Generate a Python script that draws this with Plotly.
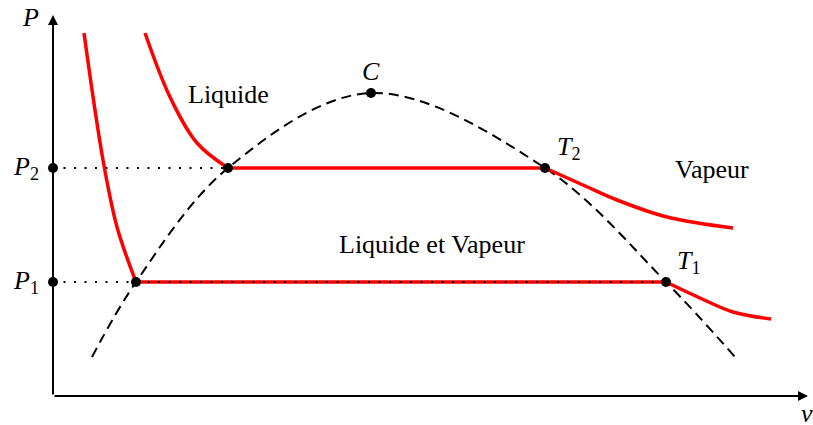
import plotly.graph_objects as go

# Isotherm T1 (lower pressure): liquid branch, plateau, vapour branch
t1_liq_v = [0.31, 0.50, 0.64, 0.83]
t1_liq_p = [3.63, 2.36, 1.69, 1.14]
t1_vap_v = [6.13, 6.47, 6.80, 7.18]
t1_vap_p = [1.14, 0.98, 0.84, 0.77]

# Isotherm T2 (higher pressure)
t2_liq_v = [0.92, 1.17, 1.44, 1.75]
t2_liq_p = [3.63, 2.99, 2.53, 2.28]
t2_vap_v = [4.92, 5.30, 5.64, 6.14, 6.80]
t2_vap_p = [2.28, 2.11, 1.96, 1.79, 1.68]

# Saturation pressures
P1 = 1.14
P2 = 2.28

# Saturation dome (bell curve) through the critical point C
dome_v = [0.39, 0.83, 1.75, 3.18, 4.92, 6.13, 6.82]
dome_p = [0.39, 1.14, 2.28, 3.03, 2.28, 1.14, 0.39]
crit_v, crit_p = 3.18, 3.03

RED = "#ff0000"
FONT = "Liberation Serif"
DOTTED = "2px,8.5px"

fig = go.Figure()

# dotted guide from the P axis to the liquid side of the T2 plateau
fig.add_trace(go.Scatter(x=[0, t2_liq_v[-1]], y=[P2, P2], mode="lines",
                         line=dict(color="black", width=2, dash=DOTTED)))

# saturation dome
fig.add_trace(go.Scatter(x=dome_v, y=dome_p, mode="lines", line_shape="spline",
                         line=dict(color="black", width=2, dash="10px,6px")))

# isotherms
for xs, ys, shape in [
    (t1_liq_v, t1_liq_p, "spline"),
    ([t1_liq_v[-1], t1_vap_v[0]], [P1, P1], "linear"),
    (t1_vap_v, t1_vap_p, "spline"),
    (t2_liq_v, t2_liq_p, "spline"),
    ([t2_liq_v[-1], t2_vap_v[0]], [P2, P2], "linear"),
    (t2_vap_v, t2_vap_p, "spline"),
]:
    fig.add_trace(go.Scatter(x=xs, y=ys, mode="lines", line_shape=shape,
                             line=dict(color=RED, width=3.5)))

# dotted guide at P1, running over the whole T1 plateau
fig.add_trace(go.Scatter(x=[0, t1_vap_v[0]], y=[P1, P1], mode="lines",
                         line=dict(color="black", width=2, dash=DOTTED)))

# marked points
pts_v = [0, 0, t1_liq_v[-1], t2_liq_v[-1], crit_v, t2_vap_v[0], t1_vap_v[0]]
pts_p = [P1, P2, P1, P2, crit_p, P2, P1]
fig.add_trace(go.Scatter(x=pts_v, y=pts_p, mode="markers",
                         marker=dict(color="black", size=10)))

# axes with arrows
annotations = []
for tip in [dict(x=7.55, y=0), dict(x=0, y=3.81)]:
    annotations.append(dict(xref="x", yref="y", axref="x", ayref="y", ax=0, ay=0,
                            showarrow=True, arrowhead=2, arrowsize=1,
                            arrowwidth=2, arrowcolor="black", text="", **tip))

labels = [
    (-0.23, 3.79, "<i>P</i>", "center"),
    (7.54, -0.17, "<i>v</i>", "center"),
    (-0.12, P2, "<i>P</i><sub>2</sub>", "right"),
    (-0.12, P1, "<i>P</i><sub>1</sub>", "right"),
    (crit_v, 3.25, "<i>C</i>", "center"),
    (5.16, 2.48, "<i>T</i><sub>2</sub>", "center"),
    (6.36, 1.34, "<i>T</i><sub>1</sub>", "center"),
    (1.75, 3.02, "Liquide", "center"),
    (6.59, 2.27, "Vapeur", "center"),
    (3.79, 1.52, "Liquide et Vapeur", "center"),
]
for x, y, t, al in labels:
    annotations.append(dict(x=x, y=y, xref="x", yref="y", text=t, showarrow=False,
                            xanchor=al, yanchor="middle",
                            font=dict(family=FONT, size=26, color="black")))

fig.update_layout(
    width=813, height=425, margin=dict(l=0, r=0, t=0, b=0),
    plot_bgcolor="white", paper_bgcolor="white", showlegend=False,
    xaxis=dict(range=[-0.53, 7.60], visible=False, fixedrange=True),
    yaxis=dict(range=[-0.29, 3.96], visible=False, fixedrange=True),
    annotations=annotations,
)

fig.write_html("out.html")
